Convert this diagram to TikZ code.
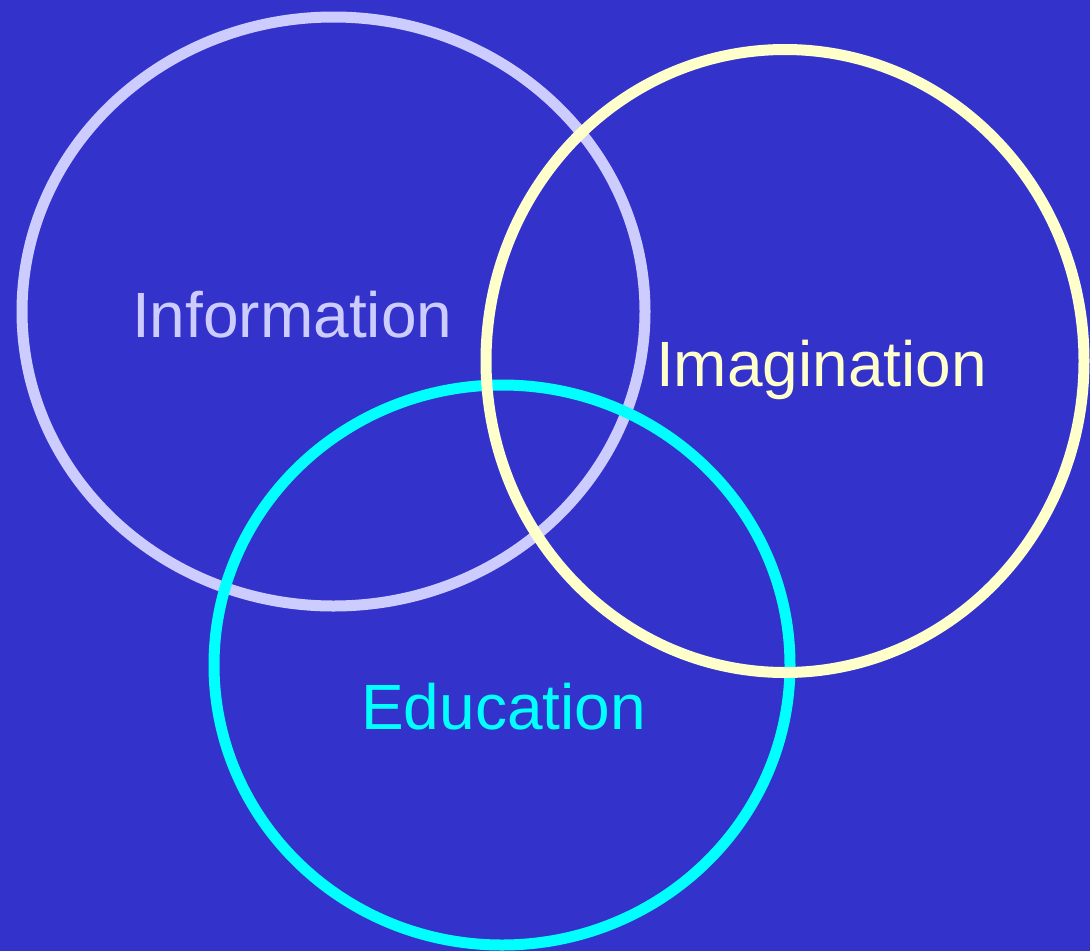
\documentclass[tikz,border=0pt]{standalone}
\usepackage{fontspec}
\setmainfont{Liberation Sans}
\definecolor{bgblue}{HTML}{3333CC}
\definecolor{infoc}{HTML}{CCCCFF}
\definecolor{imagc}{HTML}{FFFFCC}
\definecolor{educc}{HTML}{00FFFF}
\begin{document}
\begin{tikzpicture}[x=1pt,y=-1pt,
  ring/.style={line width=11pt},
  lbl/.style={anchor=base west,inner sep=0pt,font=\fontsize{64}{70}\selectfont}]
\fill[bgblue] (0,0) rectangle (1090,951);
\useasboundingbox (0,0) rectangle (1090,951);
\draw[ring,infoc] (333.5,311.5) ellipse [x radius=311.5, y radius=294.5];
\draw[ring,educc] (502,665) ellipse [x radius=288, y radius=280];
\draw[ring,imagc] (785,361) ellipse [x radius=299, y radius=311.5];
\node[lbl,text=infoc] (info) at (132,337) {Information};
\node[lbl,text=imagc] (imag) at (656,386) {Imagination};
\node[lbl,text=educc] (educ) at (361,729) {Education};
\end{tikzpicture}
\end{document}
